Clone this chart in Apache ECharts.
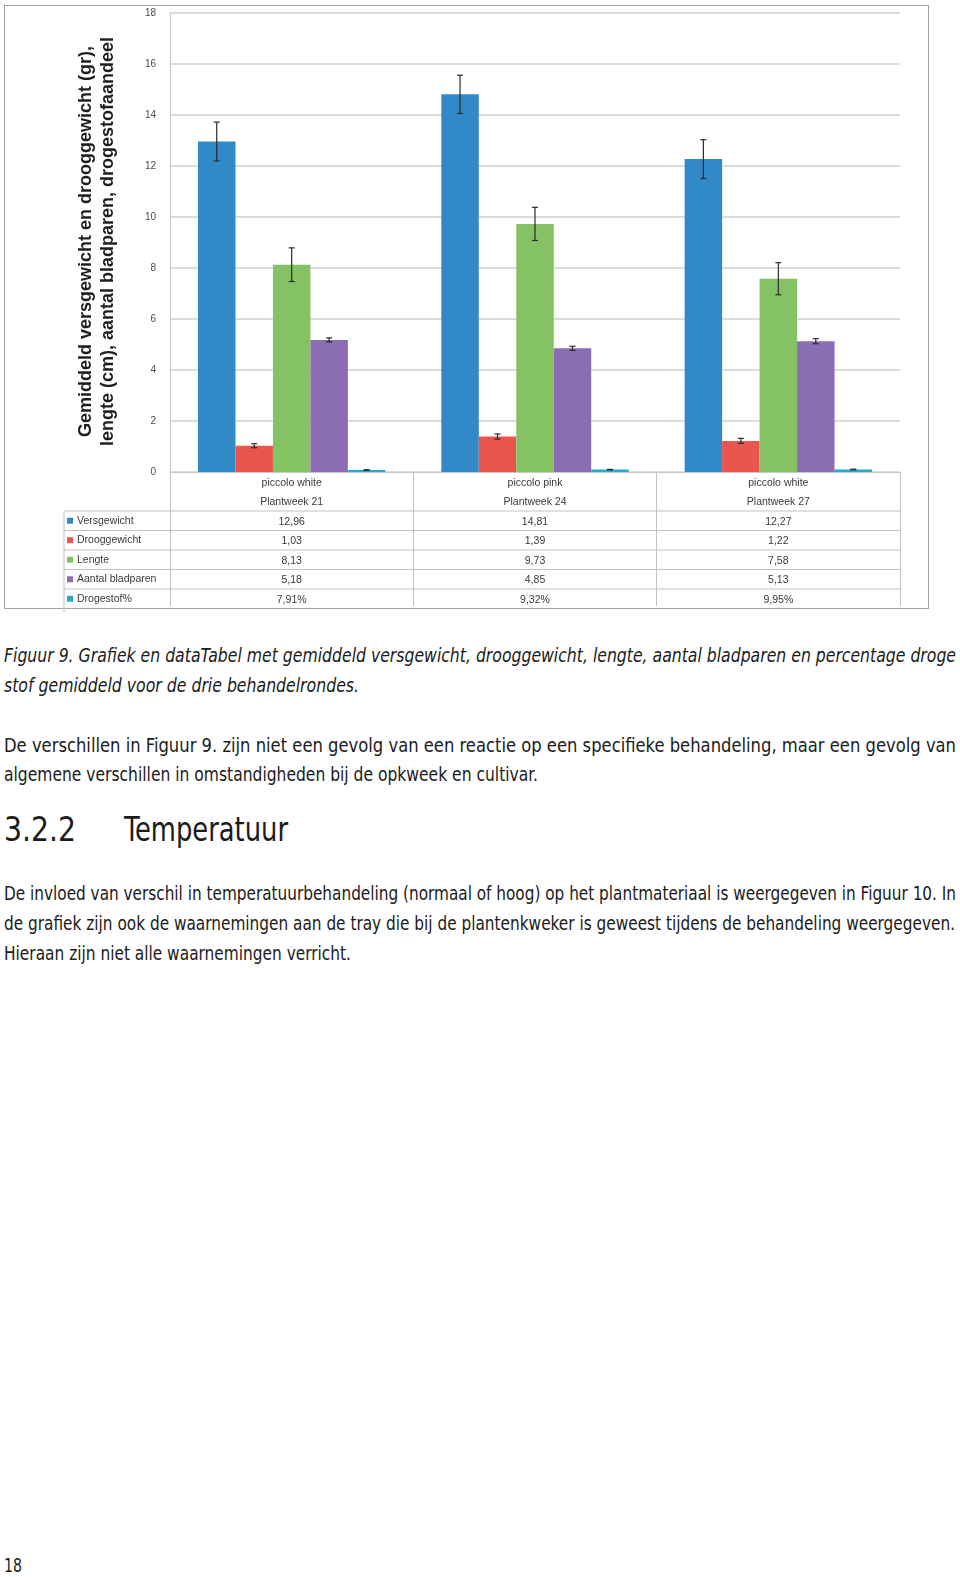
<!DOCTYPE html>
<html><head><meta charset="utf-8">
<script src="https://cdn.jsdelivr.net/npm/echarts@6/dist/echarts.min.js"></script>
<style>
html,body{margin:0;padding:0;background:#fff;width:960px;height:1577px;overflow:hidden;}
#frame{position:absolute;left:4px;top:5px;width:923px;height:602px;border:1.5px solid #9aa3a9;}
#chart{position:absolute;left:0;top:0;width:960px;height:612px;}
.ln{position:absolute;left:4px;display:inline-block;white-space:nowrap;font-family:'Liberation Sans Narrow','DejaVu Sans Condensed',sans-serif;font-size:20px;line-height:30px;height:30px;color:#1b1b1b;transform-origin:0 50%;}
.it{font-style:italic;}
.hd{font-size:33px;line-height:40px;height:40px;font-weight:normal;}
</style></head>
<body>
<div id="frame"></div>
<div id="chart"></div>

<div class="ln it" style="top:640px" data-w="952" data-j="1">Figuur 9. Grafiek en dataTabel met gemiddeld versgewicht, drooggewicht, lengte, aantal bladparen en percentage droge</div>
<div class="ln it" style="top:670px" data-w="355">stof gemiddeld voor de drie behandelrondes.</div>
<div class="ln" style="top:730px" data-w="952" data-j="1">De verschillen in Figuur 9. zijn niet een gevolg van een reactie op een specifieke behandeling, maar een gevolg van</div>
<div class="ln" style="top:759px" data-w="534">algemene verschillen in omstandigheden bij de opkweek en cultivar.</div>
<div class="ln hd" style="top:810px" data-w="72">3.2.2</div>
<div class="ln hd" style="top:810px;left:124px" data-w="164">Temperatuur</div>
<div class="ln" style="top:878px" data-w="952" data-j="1">De invloed van verschil in temperatuurbehandeling (normaal of hoog) op het plantmateriaal is weergegeven in Figuur 10. In</div>
<div class="ln" style="top:908px" data-w="951" data-j="1">de grafiek zijn ook de waarnemingen aan de tray die bij de plantenkweker is geweest tijdens de behandeling weergegeven.</div>
<div class="ln" style="top:938px" data-w="347">Hieraan zijn niet alle waarnemingen verricht.</div>
<div class="ln" style="top:1550px" data-w="18">18</div>

<script>
// ---- data ----
const cultivars = ['piccolo white', 'piccolo pink', 'piccolo white'];
const plantweeks = ['Plantweek 21', 'Plantweek 24', 'Plantweek 27'];
const seriesNames = ['Versgewicht', 'Drooggewicht', 'Lengte', 'Aantal bladparen', 'Drogestof%'];
const versgewicht = [12.96, 14.81, 12.27];
const drooggewicht = [1.03, 1.39, 1.22];
const lengte = [8.13, 9.73, 7.58];
const bladparen = [5.18, 4.85, 5.13];
const drogestof = [0.0791, 0.0932, 0.0995];
const errVersgewicht = [0.76, 0.75, 0.76];
const errDrooggewicht = [0.08, 0.10, 0.10];
const errLengte = [0.66, 0.65, 0.63];
const errBladparen = [0.08, 0.08, 0.10];
const errDrogestof = [0.01, 0.01, 0.01];
const yMin = 0, yMax = 18, yInterval = 2;

const colors = ['#3189c8', '#e8564f', '#84c263', '#8b6db4', '#27a8d0'];
const values = [versgewicht, drooggewicht, lengte, bladparen, drogestof];
const errors = [errVersgewicht, errDrooggewicht, errLengte, errBladparen, errDrogestof];

function fmt(v, si) {
  if (si === 4) return (v * 100).toFixed(2).replace('.', ',') + '%';
  return v.toFixed(2).replace('.', ',');
}

const catIdx = cultivars.map((_, i) => String(i));
const errData = [];
values.forEach((arr, si) => arr.forEach((v, ci) => {
  errData.push([ci, si, v - errors[si][ci], v + errors[si][ci]]);
}));

const GAP = 0.23;
const rowH = 19.5, headH = 39;

const chart = echarts.init(document.getElementById('chart'), null, {renderer: 'canvas'});
const series = values.map((arr, si) => ({
  name: seriesNames[si], type: 'bar', data: arr,
  barGap: '0%', barCategoryGap: (GAP * 100) + '%',
  itemStyle: {color: colors[si]}, silent: true
}));
series.push({
  type: 'custom', z: 10, silent: true,
  data: errData,
  renderItem: function (params, api) {
    const ci = api.value(0), si = api.value(1);
    const band = api.size([1, 0])[0];
    const bw = band * (1 - GAP) / 5;
    const cx = api.coord([ci, 0])[0] + (si - 2) * bw;
    const yl = api.coord([ci, api.value(2)])[1];
    const yh = api.coord([ci, api.value(3)])[1];
    const st = {stroke: '#2b2b2b', lineWidth: 1.2};
    return {type: 'group', children: [
      {type: 'line', shape: {x1: cx, y1: yl, x2: cx, y2: yh}, style: st},
      {type: 'line', shape: {x1: cx - 3, y1: yl, x2: cx + 3, y2: yl}, style: st},
      {type: 'line', shape: {x1: cx - 3, y1: yh, x2: cx + 3, y2: yh}, style: st}
    ]};
  }
});

const gridLeft = 170, gridRight = 60, gridTop = 13, gridBottom = 140;
chart.setOption({
  animation: false,
  grid: {left: gridLeft, right: gridRight, top: gridTop, bottom: gridBottom, containLabel: false},
  xAxis: {
    type: 'category', data: catIdx,
    axisLine: {show: true, lineStyle: {color: '#c3c9ce', width: 1}},
    axisTick: {show: true, length: 134, interval: 0, alignWithLabel: false, lineStyle: {color: '#bcc4cc', width: 1}},
    axisLabel: {
      interval: 0, margin: 1, lineHeight: rowH, fontSize: 10.5, color: '#3a3a3a',
      fontFamily: 'Liberation Sans, Arial, sans-serif', verticalAlign: 'top',
      formatter: function (v) {
        const ci = +v;
        const lines = [cultivars[ci], plantweeks[ci]];
        values.forEach((arr, si) => lines.push(fmt(arr[ci], si)));
        return lines.join('\n');
      }
    }
  },
  yAxis: {
    type: 'value', min: yMin, max: yMax, interval: yInterval,
    axisLine: {show: true, lineStyle: {color: '#c3c9ce'}},
    axisTick: {show: false},
    axisLabel: {fontSize: 10, color: '#4a4a4a', margin: 14, fontFamily: 'Liberation Sans, Arial, sans-serif'},
    splitLine: {lineStyle: {color: '#cdd2d6', width: 1.5}}
  },
  series: series
});

// table lines, legend column and axis title derived from the grid
const x0 = chart.convertToPixel({xAxisIndex: 0}, 0);
const bandW = chart.convertToPixel({xAxisIndex: 0}, 1) - x0;
const plotL = x0 - bandW / 2, plotR = x0 + bandW * (cultivars.length - 0.5);
const yZero = chart.convertToPixel({yAxisIndex: 0}, yMin);
const yTop = chart.convertToPixel({yAxisIndex: 0}, yMax);
const tableL = 64;
const g = [];
for (let r = 0; r < seriesNames.length; r++) {
  const yl = yZero + headH + r * rowH;
  g.push({type: 'line', silent: true, shape: {x1: tableL, y1: yl, x2: plotR, y2: yl}, style: {stroke: '#bcc4cc', lineWidth: 1}});
  g.push({type: 'rect', silent: true, shape: {x: tableL + 3, y: yl + rowH / 2 - 3, width: 6, height: 6}, style: {fill: colors[r]}});
  g.push({type: 'text', silent: true, x: tableL + 13, y: yl + rowH / 2, style: {text: seriesNames[r], fontSize: 10.5, fill: '#3a3a3a', fontFamily: 'Liberation Sans, Arial, sans-serif', verticalAlign: 'middle', align: 'left'}});
}
g.push({type: 'line', silent: true, shape: {x1: tableL, y1: yZero + headH, x2: tableL, y2: yZero + headH + rowH * 5 + 4}, style: {stroke: '#bcc4cc', lineWidth: 1}});
g.push({type: 'text', silent: true, x: plotL - 73, y: (yZero + yTop) / 2 - 1, rotation: Math.PI / 2,
  style: {text: 'Gemiddeld versgewicht en drooggewicht (gr),\nlengte (cm), aantal bladparen, drogestofaandeel',
    fontSize: 18, fontWeight: 'bold', fill: '#1e1e1e', lineHeight: 22, align: 'center', verticalAlign: 'middle',
    fontFamily: 'Liberation Sans, Arial, sans-serif'}});
chart.setOption({graphic: g});

// fit page text lines to their measured widths
document.querySelectorAll('.ln').forEach(el => {
  const target = +el.dataset.w;
  const w = el.getBoundingClientRect().width;
  if (el.dataset.j && w < target) {
    el.style.width = target + 'px';
    el.style.whiteSpace = 'normal';
    el.style.textAlign = 'justify';
    el.style.textAlignLast = 'justify';
  } else {
    el.style.transform = 'scaleX(' + (target / w) + ')';
  }
});
</script>
</body></html>
